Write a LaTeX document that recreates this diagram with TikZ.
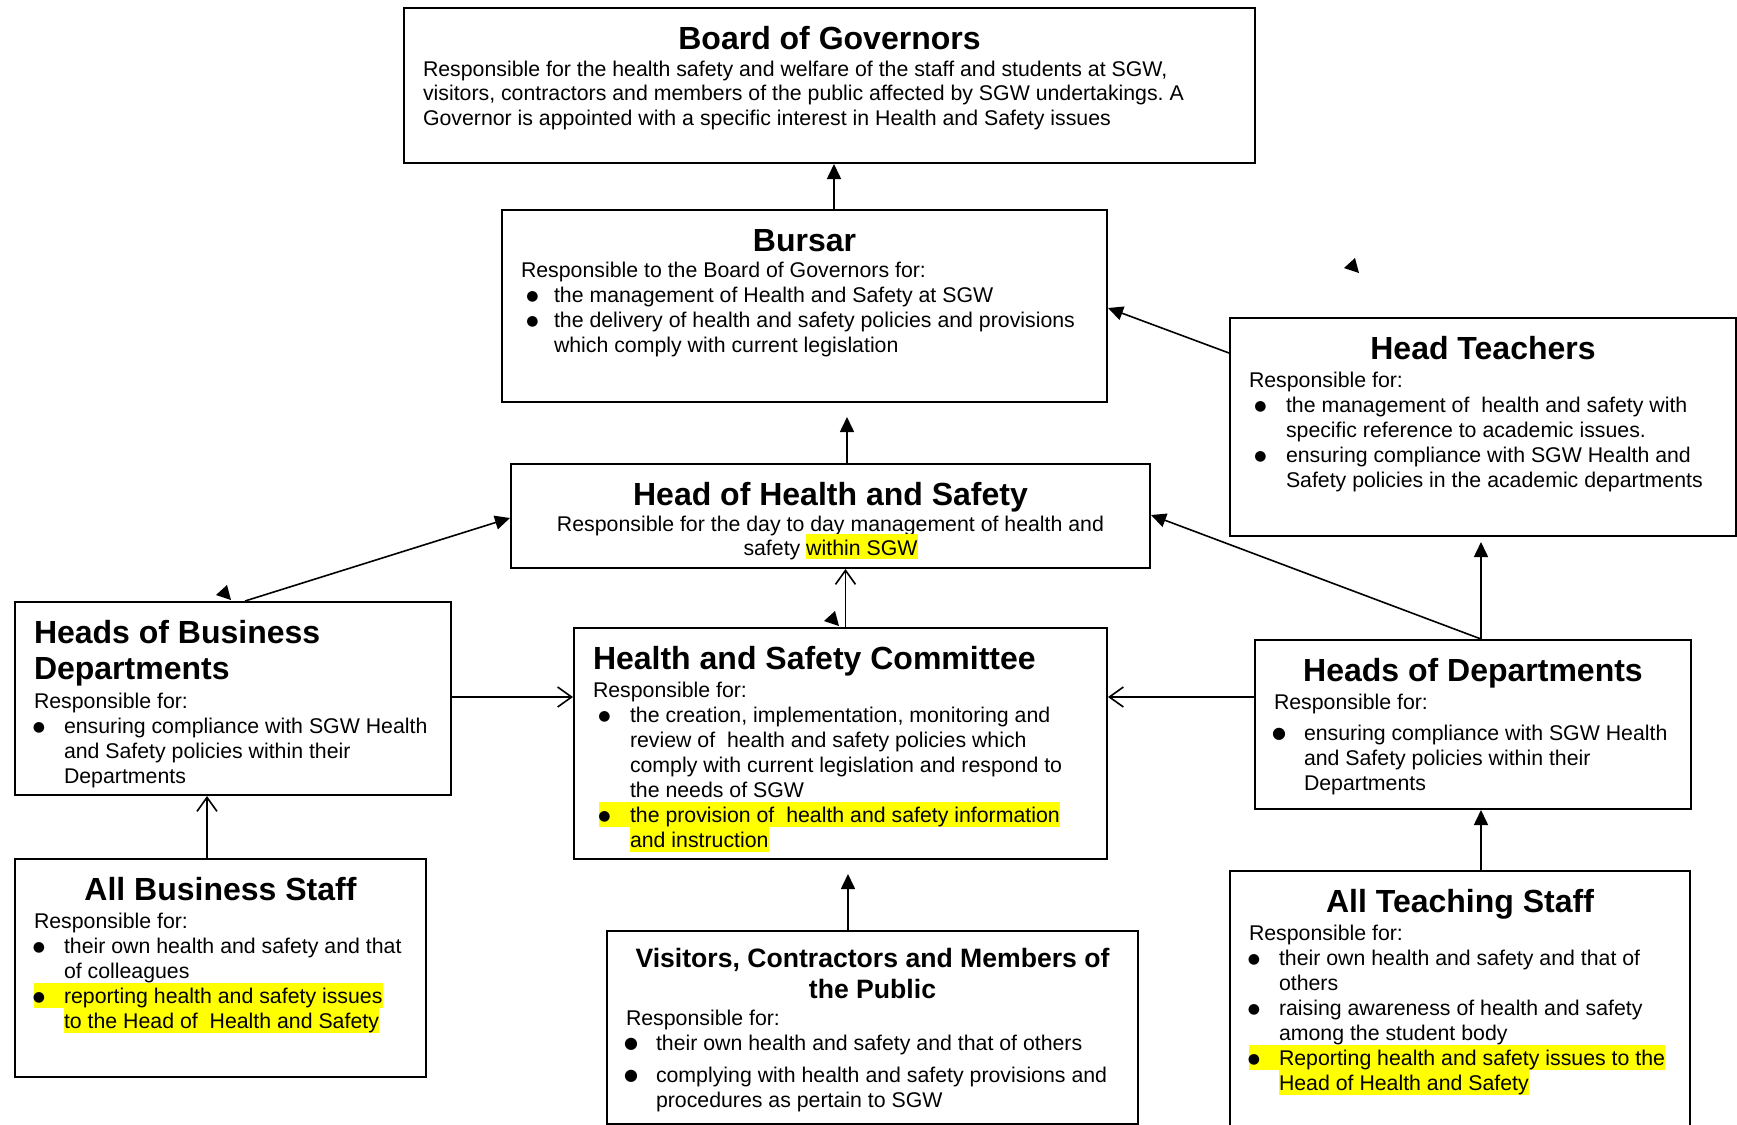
\documentclass[tikz,border=0pt]{standalone}
\usepackage{fontspec}
\setmainfont{Liberation Sans}
\newfontfamily\dotfont{DejaVu Sans}
\usetikzlibrary{arrows.meta}

\definecolor{marker}{RGB}{255,255,0}
\newlength{\bulx}
\newlength{\itemx}
\newcommand{\bodyfont}{\fontsize{10.65}{12.5}\selectfont}
\newcommand{\blob}{\raisebox{1.1pt}{\dotfont\fontsize{7}{7}\selectfont ●}}
\newcommand{\bigblob}{\raisebox{0.9pt}{\dotfont\fontsize{8}{8}\selectfont ●}}
\newcommand{\roletext}[3]{\begin{minipage}[c][#2][t]{#1}\frenchspacing\lineskiplimit=-\maxdimen\bodyfont #3\end{minipage}}
\newcommand{\heading}[2][\centering]{{#1\fontsize{16}{18.4}\selectfont\bfseries\rule{0pt}{20.5pt}#2\par}\vspace{1.75pt}}
\newcommand{\subheading}[1]{{\centering\fontsize{13.3}{15.3}\selectfont\bfseries\rule{0pt}{18.3pt}#1\par}\vspace{1.25pt}}
\newcommand{\rline}[1]{\mbox{#1}\par}
\newcommand{\bline}[1]{\noindent\makebox[\itemx][l]{\hspace*{\bulx}\makebox[0pt]{\blob}}\mbox{#1}\par}
\newcommand{\more}[1]{\noindent\hspace*{\itemx}\mbox{#1}\par}
\newcommand{\hl}[1]{{\setlength{\fboxsep}{0pt}\colorbox{marker}{\rule[-2pt]{0pt}{12.5pt}#1}}}
\newcommand{\hbline}[1]{\noindent\hspace*{\dimexpr\bulx-2.75pt\relax}\hl{\makebox[\dimexpr\itemx-\bulx+2.75pt\relax][l]{\hspace*{2.75pt}\makebox[0pt]{\blob}}#1}\par}
\newcommand{\hmore}[1]{\noindent\hspace*{\itemx}\hl{#1}\par}
\newcommand{\listA}[1]{\setlength{\bulx}{5.75pt}\setlength{\itemx}{#1}}
\newcommand{\listB}{\setlength{\bulx}{2.5pt}\setlength{\itemx}{15pt}}

\begin{document}
\begin{tikzpicture}[x=0.5pt, y=-0.5pt,
    role/.style={draw, line width=1pt, inner xsep=9.5pt, inner ysep=0pt, anchor=north west},
    reports/.style={line width=0.8pt, -{Triangle[width=7pt, length=7.5pt]}},
    feeds/.style={line width=0.8pt, -{Straight Barb[width=10pt, length=7pt]}}]

    \clip (0,0) rectangle (1737,1125);

    \newcommand{\loosehead}[1]{\fill #1 -- ++(-11,10) -- ++(15,5) -- cycle;}

    % top of the tree
    \node[role] (board) at (403,7) {\roletext{406.5pt}{77.5pt}{
        \heading{Board of Governors}
        \fontsize{10.65}{12.1}\selectfont
        \rline{Responsible for the health safety and welfare of the staff and students at SGW,}
        \rline{visitors, contractors and members of the public affected by SGW undertakings. A}
        \rline{Governor is appointed with a specific interest in Health and Safety issues}
    }};

    \node[role] (bursar) at (501,209) {\roletext{283.5pt}{96pt}{\listA{16.5pt}
        \heading{Bursar}
        \vspace{-1pt}
        \rline{Responsible to the Board of Governors for:}
        \bline{the management of Health and Safety at SGW}
        \bline{the delivery of health and safety policies and provisions}
        \more{which comply with current legislation}
    }};

    \node[role] (teachers) at (1229,317) {\roletext{234pt}{109pt}{\listA{18.5pt}
        \heading{Head Teachers}
        \rline{Responsible for:}
        \bline{the management of\ \ health and safety with}
        \more{specific reference to academic issues.}
        \bline{ensuring compliance with SGW Health and}
        \more{Safety policies in the academic departments}
    }};

    \node[role] (hohs) at (510,463) {\roletext{300.5pt}{52pt}{
        \heading{Head of Health and Safety}
        \vspace{-0.75pt}
        \fontsize{10.65}{12.1}\selectfont
        {\centering
        \rline{Responsible for the day to day management of health and}
        \rline{safety \hl{within SGW}}}
    }};

    % middle row
    \node[role] (bheads) at (14,601) {\roletext{199pt}{96.5pt}{\listB
        \heading[\raggedright]{Heads of Business\\Departments}
        \rline{Responsible for:}
        \bline{ensuring compliance with SGW Health}
        \more{and Safety policies within their}
        \more{Departments}
    }};

    \node[role] (committee) at (573,627) {\roletext{247.5pt}{115.5pt}{\listA{18.5pt}
        \heading[\raggedright]{Health and Safety Committee}
        \rline{Responsible for:}
        \bline{the creation, implementation, monitoring and}
        \more{review of\ \ health and safety policies which}
        \more{comply with current legislation and respond to}
        \more{the needs of SGW}
        \hbline{the provision of\ \ health and safety information}
        \hmore{and instruction}
    }};

    \node[role] (depts) at (1254,639) {\roletext{199pt}{84.5pt}{\listB
        \let\blob\bigblob
        \heading{Heads of Departments}
        \rline{Responsible for:}
        \vspace{3pt}
        \bline{ensuring compliance with SGW Health}
        \more{and Safety policies within their}
        \more{Departments}
    }};

    % staff
    \node[role] (bstaff) at (14,858) {\roletext{186.5pt}{109pt}{\listB
        \heading{All Business Staff}
        \rline{Responsible for:}
        \bline{their own health and safety and that}
        \more{of colleagues}
        \hbline{reporting health and safety issues}
        \hmore{to the Head of\ \ Health and Safety}
    }};

    \node[role] (visitors) at (606,930) {\roletext{246.5pt}{96.5pt}{\listB
        \let\blob\bigblob
        \subheading{Visitors, Contractors and Members of\\the Public}
        \rline{Responsible for:}
        \bline{their own health and safety and that of others}
        \vspace{3.5pt}
        \bline{complying with health and safety provisions and}
        \more{procedures as pertain to SGW}
    }};

    \node[role] (tstaff) at (1229,870) {\roletext{211pt}{165pt}{\listB
        \heading{All Teaching Staff}
        \rline{Responsible for:}
        \bline{their own health and safety and that of}
        \more{others}
        \bline{raising awareness of health and safety}
        \more{among the student body}
        \hbline{Reporting health and safety issues to the}
        \hmore{Head of Health and Safety}
    }};

    % where the lines meet the boxes
    \coordinate (xbg) at (834,0);
    \coordinate (xhs) at (847,0);
    \coordinate (xcm) at (845.5,0);
    \coordinate (xvs) at (848,0);
    \coordinate (xbs) at (207,0);
    \coordinate (xbd) at (245,0);
    \coordinate (xdp) at (1481,0);
    \coordinate (yrow) at (0,697);
    \coordinate (yht) at (0,353);
    \coordinate (ybu) at (0,308);
    \coordinate (ybd) at (0,518);
    \coordinate (ydp) at (0,515);

    \draw[reports] (xbg |- bursar.north) -- (xbg |- board.south);
    \draw[reports, shorten >=7pt] (xhs |- hohs.north) -- (xhs |- bursar.south);
    \draw[reports] (teachers.west |- yht) -- (bursar.east |- ybu);
    \draw[reports] (xbd |- bheads.north) -- (hohs.west |- ybd);
    \draw[reports] (xdp |- depts.north) -- (hohs.east |- ydp);
    \draw[reports, shorten >=2.5pt] (xdp |- depts.north) -- (xdp |- teachers.south);
    \draw[reports] (xdp |- tstaff.north) -- (xdp |- depts.south);
    \draw[reports, shorten >=7pt] (xvs |- visitors.north) -- (xvs |- committee.south);

    \draw[feeds] (xcm |- committee.north) -- (xcm |- hohs.south);
    \draw[feeds] (bheads.east |- yrow) -- (committee.west |- yrow);
    \draw[feeds] (depts.west |- yrow) -- (committee.east |- yrow);
    \draw[feeds] (xbs |- bstaff.north) -- (xbs |- bheads.south);

    % loose arrow heads
    \loosehead{(227,585)}
    \loosehead{(835,611)}
    \loosehead{(1355,258)}

\end{tikzpicture}
\end{document}
